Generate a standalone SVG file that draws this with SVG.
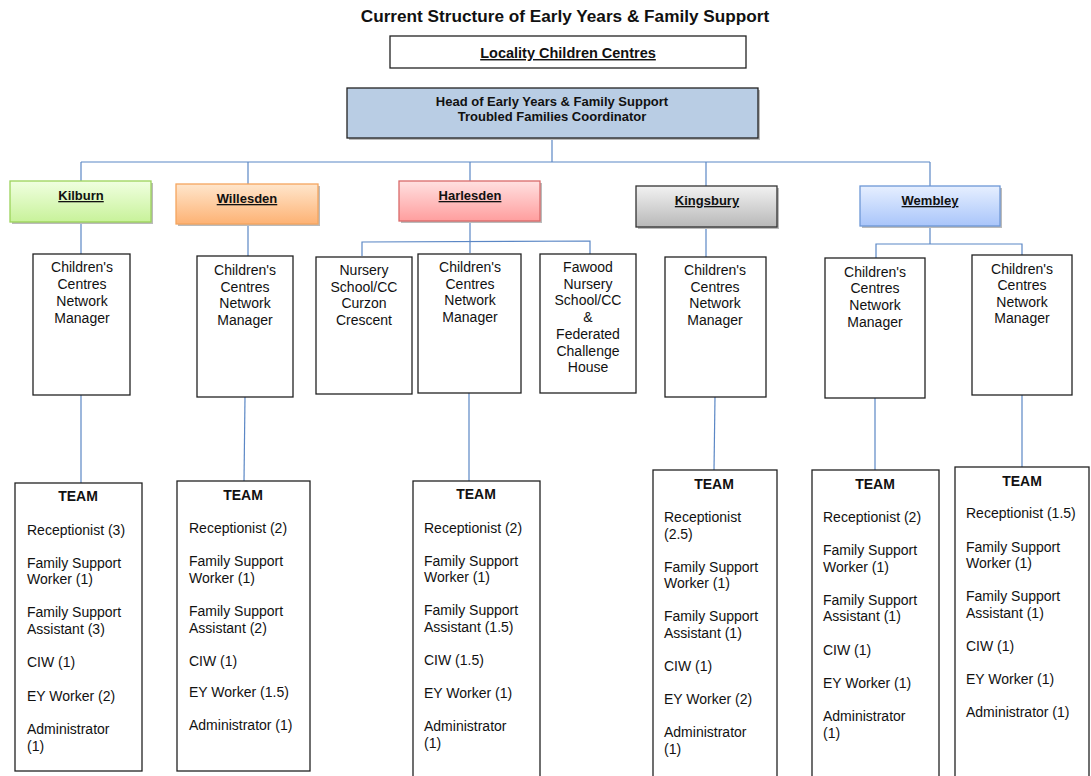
<svg xmlns="http://www.w3.org/2000/svg" width="1091" height="776" viewBox="0 0 1091 776">
<defs>
<linearGradient id="gGreen" x1="0" y1="0" x2="0" y2="1"><stop offset="0" stop-color="#f0ffe0"/><stop offset="1" stop-color="#c8f29a"/></linearGradient>
<linearGradient id="gOrange" x1="0" y1="0" x2="0" y2="1"><stop offset="0" stop-color="#ffe6cc"/><stop offset="1" stop-color="#fdb274"/></linearGradient>
<linearGradient id="gRed" x1="0" y1="0" x2="0" y2="1"><stop offset="0" stop-color="#ffe0e0"/><stop offset="1" stop-color="#ff9e9e"/></linearGradient>
<linearGradient id="gGray" x1="0" y1="0" x2="0" y2="1"><stop offset="0" stop-color="#f2f2f2"/><stop offset="1" stop-color="#b8b8b8"/></linearGradient>
<linearGradient id="gBlue" x1="0" y1="0" x2="0" y2="1"><stop offset="0" stop-color="#e6efff"/><stop offset="1" stop-color="#a9c5fa"/></linearGradient>
</defs>
<style>
text{font-family:"Liberation Sans",Arial,sans-serif;fill:#111}
.box{fill:#fff;stroke:#222;stroke-width:1.3}
.conn line,.conn polyline{stroke:#5b87c5;stroke-width:1.2;fill:none}
.t14{font-size:14px}
.c{text-anchor:middle}
.b{font-weight:bold}
.u{text-decoration:underline}
.loc{font-size:13px;font-weight:bold;text-decoration:underline;text-anchor:middle}
.shadow{fill:#bbb}
</style>
<rect width="1091" height="776" fill="#fff"/>
<text x="565" y="22" class="c b" font-size="17.2">Current Structure of Early Years &amp; Family Support</text>

<g id="locality-title">
<rect x="390" y="36" width="356" height="32" class="box"/>
<text x="568" y="58" class="c b u" font-size="14.5">Locality Children Centres</text>
</g>

<g class="conn">
<line x1="552" y1="138" x2="552" y2="162"/>
<line x1="81" y1="162" x2="930" y2="162"/>
<line x1="81" y1="162" x2="81" y2="181"/>
<line x1="248" y1="162" x2="248" y2="184"/>
<line x1="470" y1="162" x2="470" y2="181"/>
<line x1="706" y1="162" x2="706" y2="186"/>
<line x1="930" y1="162" x2="930" y2="186"/>
<line x1="81" y1="222" x2="81" y2="254"/>
<line x1="81" y1="395" x2="81" y2="483"/>
<line x1="248" y1="224" x2="248" y2="256"/>
<line x1="245" y1="397" x2="244" y2="481"/>
<line x1="470" y1="221" x2="470" y2="253"/>
<polyline points="362,256 362,242 590,241 590,254"/>
<line x1="469" y1="393" x2="469" y2="481"/>
<line x1="706" y1="227" x2="706" y2="257"/>
<line x1="715" y1="397" x2="714" y2="470"/>
<line x1="930" y1="226" x2="930" y2="244"/>
<polyline points="876,258 876,244 1022,244 1022,255"/>
<line x1="875" y1="398" x2="875" y2="470"/>
<line x1="1022" y1="395" x2="1022" y2="467"/>
</g>

<g id="head">
<rect x="349" y="90" width="411" height="50" class="shadow"/>
<rect x="347" y="88" width="411" height="50" fill="#b9cde4" stroke="#222" stroke-width="1.3"/>
<text x="552" y="106" class="c b" font-size="13">Head of Early Years &amp; Family Support</text>
<text x="552" y="121" class="c b" font-size="13">Troubled Families Coordinator</text>
</g>

<g id="kilburn">
<rect x="12" y="183" width="141" height="41" class="shadow"/>
<rect x="10" y="181" width="141" height="41" fill="url(#gGreen)" stroke="#9bd35a" stroke-width="1.3"/>
<text x="81" y="200" class="loc">Kilburn</text>
</g>
<g id="willesden">
<rect x="178" y="186" width="142" height="40" class="shadow"/>
<rect x="176" y="184" width="142" height="40" fill="url(#gOrange)" stroke="#f5a55f" stroke-width="1.3"/>
<text x="247" y="203" class="loc">Willesden</text>
</g>
<g id="harlesden">
<rect x="401" y="183" width="141" height="40" class="shadow"/>
<rect x="399" y="181" width="141" height="40" fill="url(#gRed)" stroke="#d96a6a" stroke-width="1.3"/>
<text x="470" y="200" class="loc">Harlesden</text>
</g>
<g id="kingsbury">
<rect x="638" y="188" width="141" height="41" class="shadow"/>
<rect x="636" y="186" width="141" height="41" fill="url(#gGray)" stroke="#333" stroke-width="1.3"/>
<text x="707" y="205" class="loc">Kingsbury</text>
</g>
<g id="wembley">
<rect x="862" y="188" width="140" height="40" class="shadow"/>
<rect x="860" y="186" width="140" height="40" fill="url(#gBlue)" stroke="#6d97d6" stroke-width="1.3"/>
<text x="930" y="205" class="loc">Wembley</text>
</g>

<g id="kilburn-manager">
<rect x="33" y="254" width="97" height="141" class="box"/>
<text class="t14 c"><tspan x="82" y="272">Children's</tspan><tspan x="82" y="289">Centres</tspan><tspan x="82" y="306">Network</tspan><tspan x="82" y="323">Manager</tspan></text>
</g>
<g id="willesden-manager">
<rect x="197" y="256" width="96" height="141" class="box"/>
<text class="t14 c"><tspan x="245" y="275">Children's</tspan><tspan x="245" y="292">Centres</tspan><tspan x="245" y="308">Network</tspan><tspan x="245" y="325">Manager</tspan></text>
</g>
<g id="nursery-curzon">
<rect x="316" y="257" width="96" height="137" class="box"/>
<text class="t14 c"><tspan x="364" y="275">Nursery</tspan><tspan x="364" y="292">School/CC</tspan><tspan x="364" y="308">Curzon</tspan><tspan x="364" y="325">Crescent</tspan></text>
</g>
<g id="harlesden-manager">
<rect x="418" y="254" width="103" height="139" class="box"/>
<text class="t14 c"><tspan x="470" y="272">Children's</tspan><tspan x="470" y="289">Centres</tspan><tspan x="470" y="305">Network</tspan><tspan x="470" y="322">Manager</tspan></text>
</g>
<g id="fawood">
<rect x="540" y="254" width="96" height="139" class="box"/>
<text class="t14 c"><tspan x="588" y="272">Fawood</tspan><tspan x="588" y="289">Nursery</tspan><tspan x="588" y="305">School/CC</tspan><tspan x="588" y="322">&amp;</tspan><tspan x="588" y="339">Federated</tspan><tspan x="588" y="356">Challenge</tspan><tspan x="588" y="372">House</tspan></text>
</g>
<g id="kingsbury-manager">
<rect x="665" y="257" width="101" height="140" class="box"/>
<text class="t14 c"><tspan x="715" y="275">Children's</tspan><tspan x="715" y="292">Centres</tspan><tspan x="715" y="308">Network</tspan><tspan x="715" y="325">Manager</tspan></text>
</g>
<g id="wembley-manager-1">
<rect x="825" y="258" width="100" height="140" class="box"/>
<text class="t14 c"><tspan x="875" y="277">Children's</tspan><tspan x="875" y="293">Centres</tspan><tspan x="875" y="310">Network</tspan><tspan x="875" y="327">Manager</tspan></text>
</g>
<g id="wembley-manager-2">
<rect x="972" y="255" width="100" height="140" class="box"/>
<text class="t14 c"><tspan x="1022" y="274">Children's</tspan><tspan x="1022" y="290">Centres</tspan><tspan x="1022" y="307">Network</tspan><tspan x="1022" y="323">Manager</tspan></text>
</g>

<g id="kilburn-team">
<rect x="15" y="483" width="127" height="288" class="box"/>
<text x="78" y="501" class="t14 c b">TEAM</text>
<text class="t14"><tspan x="27" y="535">Receptionist (3)</tspan><tspan x="27" y="568">Family Support</tspan><tspan x="27" y="584">Worker (1)</tspan><tspan x="27" y="617">Family Support</tspan><tspan x="27" y="634">Assistant (3)</tspan><tspan x="27" y="667">CIW (1)</tspan><tspan x="27" y="701">EY Worker (2)</tspan><tspan x="27" y="734">Administrator</tspan><tspan x="27" y="751">(1)</tspan></text>
</g>
<g id="willesden-team">
<rect x="177" y="481" width="133" height="290" class="box"/>
<text x="243" y="500" class="t14 c b">TEAM</text>
<text class="t14"><tspan x="189" y="533">Receptionist (2)</tspan><tspan x="189" y="566">Family Support</tspan><tspan x="189" y="583">Worker (1)</tspan><tspan x="189" y="616">Family Support</tspan><tspan x="189" y="633">Assistant (2)</tspan><tspan x="189" y="666">CIW (1)</tspan><tspan x="189" y="697">EY Worker (1.5)</tspan><tspan x="189" y="730">Administrator (1)</tspan></text>
</g>
<g id="harlesden-team">
<rect x="413" y="481" width="127" height="300" class="box"/>
<text x="476" y="499" class="t14 c b">TEAM</text>
<text class="t14"><tspan x="424" y="533">Receptionist (2)</tspan><tspan x="424" y="566">Family Support</tspan><tspan x="424" y="582">Worker (1)</tspan><tspan x="424" y="615">Family Support</tspan><tspan x="424" y="632">Assistant (1.5)</tspan><tspan x="424" y="665">CIW (1.5)</tspan><tspan x="424" y="698">EY Worker (1)</tspan><tspan x="424" y="731">Administrator</tspan><tspan x="424" y="748">(1)</tspan></text>
</g>
<g id="kingsbury-team">
<rect x="653" y="470" width="124" height="311" class="box"/>
<text x="714" y="489" class="t14 c b">TEAM</text>
<text class="t14"><tspan x="664" y="522">Receptionist</tspan><tspan x="664" y="539">(2.5)</tspan><tspan x="664" y="572">Family Support</tspan><tspan x="664" y="588">Worker (1)</tspan><tspan x="664" y="621">Family Support</tspan><tspan x="664" y="638">Assistant (1)</tspan><tspan x="664" y="671">CIW (1)</tspan><tspan x="664" y="704">EY Worker (2)</tspan><tspan x="664" y="737">Administrator</tspan><tspan x="664" y="754">(1)</tspan></text>
</g>
<g id="wembley-team-1">
<rect x="812" y="470" width="127" height="311" class="box"/>
<text x="875" y="489" class="t14 c b">TEAM</text>
<text class="t14"><tspan x="823" y="522">Receptionist (2)</tspan><tspan x="823" y="555">Family Support</tspan><tspan x="823" y="572">Worker (1)</tspan><tspan x="823" y="605">Family Support</tspan><tspan x="823" y="621">Assistant (1)</tspan><tspan x="823" y="655">CIW (1)</tspan><tspan x="823" y="688">EY Worker (1)</tspan><tspan x="823" y="721">Administrator</tspan><tspan x="823" y="738">(1)</tspan></text>
</g>
<g id="wembley-team-2">
<rect x="955" y="467" width="134" height="314" class="box"/>
<text x="1022" y="486" class="t14 c b">TEAM</text>
<text class="t14"><tspan x="966" y="518">Receptionist (1.5)</tspan><tspan x="966" y="552">Family Support</tspan><tspan x="966" y="568">Worker (1)</tspan><tspan x="966" y="601">Family Support</tspan><tspan x="966" y="618">Assistant (1)</tspan><tspan x="966" y="651">CIW (1)</tspan><tspan x="966" y="684">EY Worker (1)</tspan><tspan x="966" y="717">Administrator (1)</tspan></text>
</g>
</svg>
